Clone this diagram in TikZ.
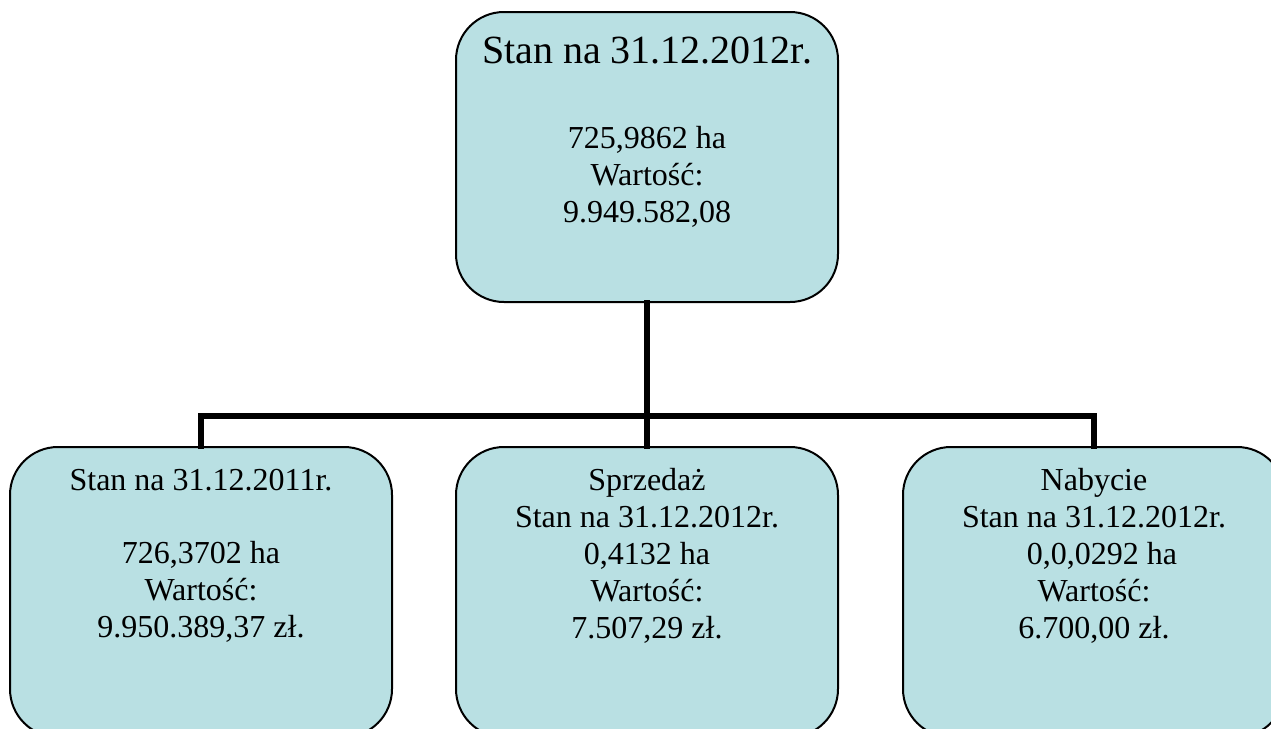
\documentclass[tikz,border=0pt]{standalone}
\usepackage{fontspec}
\setmainfont{Liberation Serif}
\usepackage{tikz}
\usetikzlibrary{positioning}
\definecolor{cellblue}{HTML}{B9E0E3}
\newcommand{\boxcolor}{cellblue}
% text block of a cell: first baseline offset, then the lines
\newcommand{\cellbody}[2]{\parbox[c][145pt][t]{185pt}{\centering\rule{0pt}{#1}#2}}

\begin{document}
\begin{tikzpicture}[
      % GLOBAL CFG
      x=0.5pt, y=-0.5pt,
      font=\fontsize{16}{18.5}\selectfont,
      % Styles
      cell/.style={% For the rounded boxes
        rectangle,
        rounded corners=24pt,
        draw,
        line width=1pt,
        fill=\boxcolor,
        inner sep=0pt,
        minimum width=191pt,
        minimum height=145pt
      },
      tree/.style={% For the connecting lines
        line width=2.6pt,
        line cap=rect
      }
      ]

      \useasboundingbox (0,0) rectangle (1271,729);
      \clip (0,0) rectangle (1271,729);

      % Top cell
      \node [cell] (total) at (647,157)
        {\cellbody{25.5pt}{{\fontsize{20}{24}\selectfont Stan na 31.12.2012r.}\\[24pt]
          725,9862 ha\\ Wartość:\\ 9.949.582,08}};

      % Bottom cells
      \node [cell] (prev) at (201,592)
        {\cellbody{21.5pt}{Stan na 31.12.2011r.\\[18pt]
          726,3702 ha\\ Wartość:\\ 9.950.389,37 zł.}};
      \node [cell] (sale) at (647,592)
        {\cellbody{21.5pt}{Sprzedaż\\ Stan na 31.12.2012r.\\ 0,4132 ha\\
          Wartość:\\ 7.507,29 zł.}};
      \node [cell] (buy) at (1094,592)
        {\cellbody{21.5pt}{Nabycie\\ Stan na 31.12.2012r.\\ \hspace*{8pt}0,0,0292 ha\\
          Wartość:\\ 6.700,00 zł.}};

      % Tree lines
      \coordinate (bus) at (647,416);
      \draw [tree] (total) -- (bus);
      \draw [tree] (prev.north) |- (bus);
      \draw [tree] (buy.north) |- (bus);
      \draw [tree] (sale.north) -- (bus);

    \end{tikzpicture}
\end{document}
